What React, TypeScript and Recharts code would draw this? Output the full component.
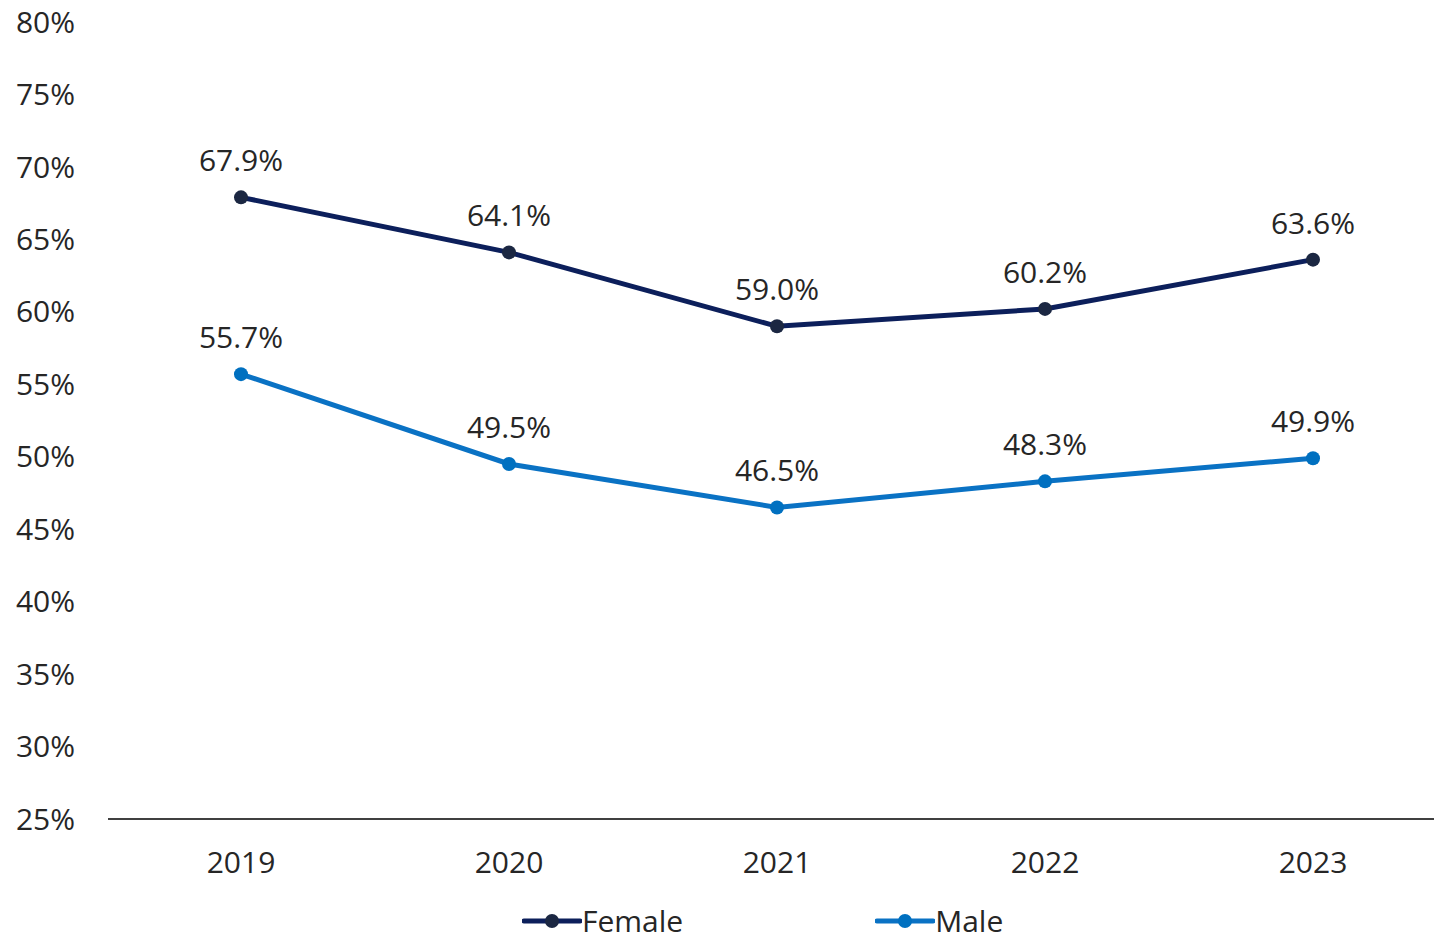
import { LineChart, Line, XAxis, YAxis, Legend, LabelList } from "recharts";

// Anos e percentuais
const years = ["2019", "2020", "2021", "2022", "2023"];
const female = [67.9, 64.1, 59.0, 60.2, 63.6];
const male = [55.7, 49.5, 46.5, 48.3, 49.9];
const yTicks = [25, 30, 35, 40, 45, 50, 55, 60, 65, 70, 75, 80];

const data = years.map((year, i) => ({ year, female: female[i], male: male[i] }));

const FEMALE_COLOR = "#0c1f5b";
const FEMALE_DOT = "#1b2742";
const MALE_COLOR = "#0a72c4";
const MALE_DOT = "#0070c0";
const TEXT = "#262626";
const FONT = "'Open Sans', sans-serif";
const FS = 30;

function LegendItem({ color, dot, label }: { color: string; dot: string; label: string }) {
  return (
    <div style={{ display: "flex", alignItems: "center" }}>
      <svg width={60} height={20} style={{ display: "block" }}>
        <line x1={2} y1={10} x2={58} y2={10} stroke={color} strokeWidth={5} strokeLinecap="round" />
        <circle cx={30} cy={10} r={7} fill={dot} />
      </svg>
      <div style={{ fontFamily: FONT, fontSize: FS, color: TEXT, lineHeight: "30px", height: 30 }}>{label}</div>
    </div>
  );
}

function CustomLegend() {
  return (
    <div style={{ display: "flex", gap: 192 }}>
      <LegendItem color={FEMALE_COLOR} dot={FEMALE_DOT} label="Female" />
      <LegendItem color={MALE_COLOR} dot={MALE_DOT} label="Male" />
    </div>
  );
}

export default function App() {
  return (
    <div style={{ position: "absolute", left: 0, top: 0, width: 1434, height: 943, background: "#fff" }}>
      <LineChart width={1434} height={943} data={data} margin={{ top: 22, right: 0, left: 0, bottom: 0 }}>
        <XAxis
          dataKey="year"
          height={94}
          padding={{ left: 133, right: 121 }}
          axisLine={{ stroke: "#404040", strokeWidth: 2 }}
          tickLine={false}
          tick={{ fill: TEXT, fontSize: FS, fontFamily: FONT }}
          tickMargin={27}
        />
        <YAxis
          width={108}
          domain={[25, 80]}
          ticks={yTicks}
          axisLine={false}
          tickLine={false}
          tickMargin={27}
          tickFormatter={(v) => `${v}%`}
          tick={{ fill: TEXT, fontSize: FS, fontFamily: FONT }}
        />
        <Legend
          content={<CustomLegend />}
          wrapperStyle={{ left: 522, top: 906, width: "auto", height: 30 }}
        />
        <Line
          type="linear"
          dataKey="female"
          name="Female"
          stroke={FEMALE_COLOR}
          strokeWidth={5}
          dot={{ r: 7, fill: FEMALE_DOT, stroke: FEMALE_DOT, strokeWidth: 0 }}
          isAnimationActive={false}
        >
          <LabelList
            dataKey="female"
            position="top"
            offset={26}
            formatter={(v: number) => `${v.toFixed(1)}%`}
            style={{ fill: TEXT, fontSize: FS, fontFamily: FONT }}
          />
        </Line>
        <Line
          type="linear"
          dataKey="male"
          name="Male"
          stroke={MALE_COLOR}
          strokeWidth={5}
          dot={{ r: 7, fill: MALE_DOT, stroke: MALE_DOT, strokeWidth: 0 }}
          isAnimationActive={false}
        >
          <LabelList
            dataKey="male"
            position="top"
            offset={26}
            formatter={(v: number) => `${v.toFixed(1)}%`}
            style={{ fill: TEXT, fontSize: FS, fontFamily: FONT }}
          />
        </Line>
      </LineChart>
    </div>
  );
}
